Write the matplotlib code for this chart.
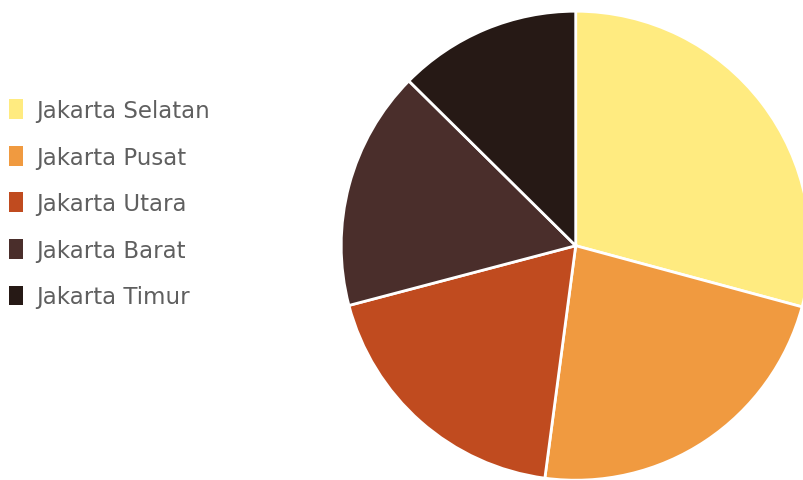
import matplotlib
matplotlib.use("Agg")
import matplotlib.pyplot as plt
from matplotlib.patches import Patch

labels = ["Jakarta Selatan", "Jakarta Pusat", "Jakarta Utara", "Jakarta Barat", "Jakarta Timur"]
values = [29.2, 22.9, 18.8, 16.5, 12.6]
colors = ["#FFEB80", "#F09A40", "#C04B1F", "#4A2E2B", "#261915"]

W, H = 804, 481
fig = plt.figure(figsize=(W / 100, H / 100), dpi=100)
fig.patch.set_facecolor("white")

cx, cy, r = 575.7, 246.7, 234.5
ax = fig.add_axes([(cx - r) / W, (H - cy - r) / H, 2 * r / W, 2 * r / H])
wedges, _ = ax.pie(values, colors=colors, startangle=90, counterclock=False,
                   radius=1.0, wedgeprops=dict(edgecolor="white", linewidth=2.0))
for w in wedges:
    w.set_clip_on(False)
ax.set_xlim(-1, 1)
ax.set_ylim(-1, 1)
ax.set_aspect("equal")
ax.axis("off")

handles = [Patch(facecolor=c, edgecolor="none") for c in colors]
fs = 16.5
leg = fig.legend(handles, labels, loc="upper left", bbox_to_anchor=(9 / W, 1 - 100 / H),
                 frameon=False, borderpad=0, borderaxespad=0,
                 handlelength=0.6, handleheight=0.95, handletextpad=0.6,
                 labelspacing=1.03, prop={"family": "DejaVu Sans", "size": fs})
for t in leg.get_texts():
    t.set_color("#5f5f5f")

fig.savefig("out.png", dpi=100, facecolor="white")
